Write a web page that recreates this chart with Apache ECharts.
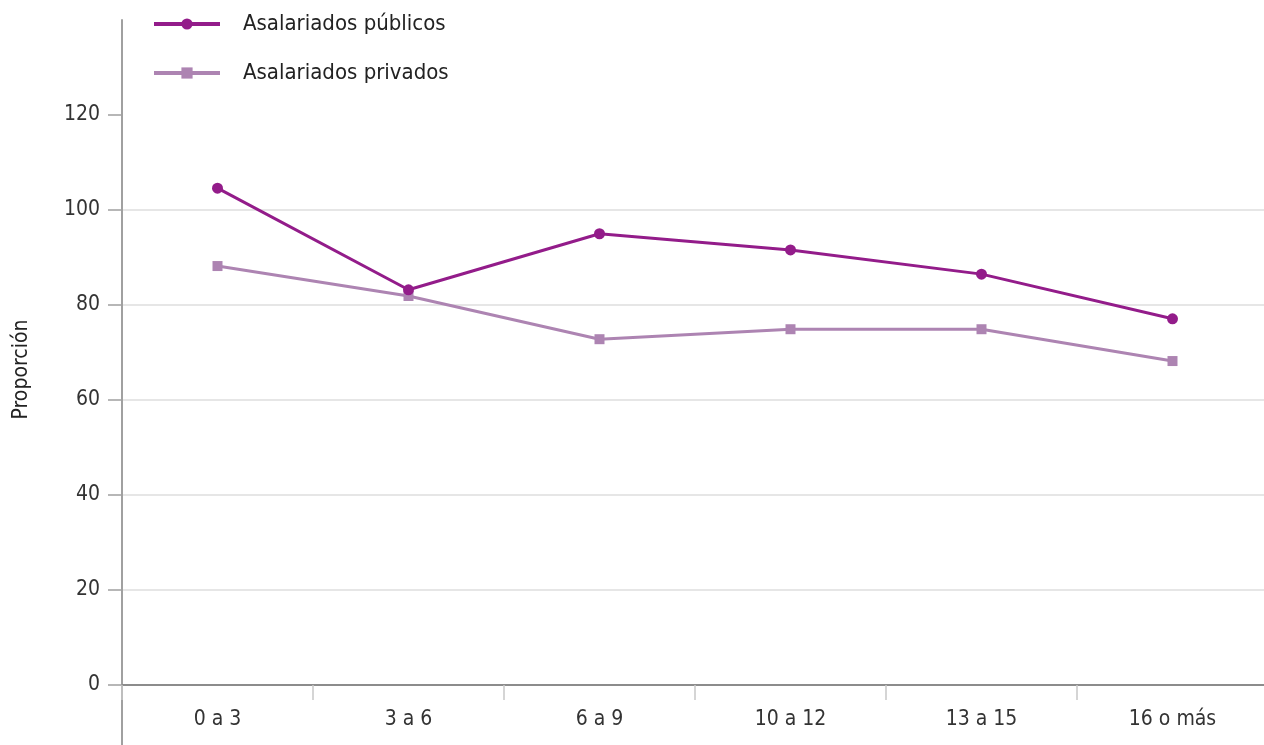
<!DOCTYPE html>
<html>
<head>
<meta charset="utf-8">
<script src="https://cdn.jsdelivr.net/npm/echarts@6/dist/echarts.min.js"></script>
<style>
html,body{margin:0;padding:0;background:#fff;}
#chart{width:1264px;height:745px;}
</style>
</head>
<body>
<div id="chart"></div>
<script>
const categories = ['0 a 3', '3 a 6', '6 a 9', '10 a 12', '13 a 15', '16 o más'];
const publicos = [104.6, 83.2, 95.0, 91.6, 86.5, 77.1];
const privados = [88.2, 81.9, 72.8, 74.9, 74.9, 68.2];
const yTicks = [0, 20, 40, 60, 80, 100, 120];
const seriesNames = ['Asalariados públicos', 'Asalariados privados'];

const FONT = "'DejaVu Sans Condensed', 'Liberation Sans Narrow', sans-serif";
const chart = echarts.init(document.getElementById('chart'), null, {renderer: 'canvas'});
const gridColors = ['#e6e6e6', '#e6e6e6', '#e6e6e6', '#e6e6e6', '#e6e6e6', '#e6e6e6', '#e6e6e6', 'transparent'];
chart.setOption({
  backgroundColor: '#ffffff',
  animation: false,
  textStyle: {fontFamily: FONT},
  legend: {
    orient: 'vertical',
    left: 147,
    top: 8,
    itemWidth: 66,
    itemHeight: 14,
    itemGap: 27,
    lineStyle: {width: 4},
    textStyle: {fontFamily: FONT, fontSize: 22, color: '#222', padding: [0, 0, 0, 18]},
    data: seriesNames
  },
  grid: {left: 122, right: -4, top: 20, bottom: 60, containLabel: false, outerBoundsMode: 'none'},
  xAxis: {
    type: 'category',
    data: categories,
    boundaryGap: true,
    axisLine: {onZero: true, lineStyle: {color: '#8c8c8c', width: 2}},
    axisTick: {show: true, length: 15, lineStyle: {color: '#c8c8c8', width: 1.5}},
    axisLabel: {fontFamily: FONT, fontSize: 21, color: '#333', margin: 24},
    splitLine: {show: false}
  },
  yAxis: {
    type: 'value',
    min: 0,
    max: 140,
    interval: 20,
    name: 'Proporción',
    nameLocation: 'middle',
    nameGap: 90,
    nameRotate: 90,
    nameTextStyle: {fontFamily: FONT, fontSize: 21, color: '#222', padding: [0, 34, 0, 0]},
    axisLine: {show: true, lineStyle: {color: '#a0a0a0', width: 2}},
    axisTick: {show: true, length: 14, customValues: yTicks, lineStyle: {color: '#a0a0a0', width: 1.5}},
    axisLabel: {fontFamily: FONT, fontSize: 21, color: '#333', margin: 22, customValues: yTicks},
    splitLine: {show: true, showMaxLine: false, lineStyle: {color: gridColors, width: 2}}
  },
  series: [
    {
      name: seriesNames[0],
      type: 'line',
      data: publicos,
      symbol: 'circle',
      symbolSize: 11,
      lineStyle: {color: '#931c8a', width: 3},
      itemStyle: {color: '#931c8a'},
      z: 3
    },
    {
      name: seriesNames[1],
      type: 'line',
      data: privados,
      symbol: 'rect',
      symbolSize: 10,
      lineStyle: {color: '#ad84b2', width: 3},
      itemStyle: {color: '#ad84b2'},
      z: 2
    }
  ]
});
// extend the y axis line below the x axis, as in the reference
const origin = chart.convertToPixel({gridIndex: 0}, [0, 0]);
const gridRect = chart.getModel().getComponent('grid', 0).coordinateSystem.getRect();
chart.setOption({
  graphic: [{
    type: 'line',
    shape: {x1: gridRect.x, y1: origin[1], x2: gridRect.x, y2: 745},
    style: {stroke: '#a0a0a0', lineWidth: 2},
    silent: true
  }]
});
</script>
</body>
</html>
